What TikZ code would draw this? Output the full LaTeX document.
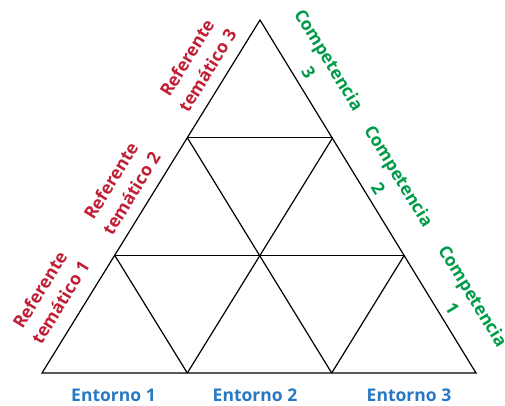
\documentclass[tikz,border=0pt]{standalone}
\usepackage{fontspec}
\setmainfont{Open Sans}
\definecolor{refred}{RGB}{192,30,52}
\definecolor{compgreen}{RGB}{0,155,72}
\definecolor{entblue}{RGB}{40,120,195}
\begin{document}
\begin{tikzpicture}[x=1pt,y=-1pt,
  edge/.style={draw=black,line width=1.2pt,line join=miter},
  reflab/.style={text=refred,font=\fontsize{17.5}{24}\selectfont\bfseries,align=center,rotate=58.3,inner sep=0pt},
  complab/.style={text=compgreen,font=\fontsize{17.5}{24}\selectfont\bfseries,align=center,rotate=-58.5,inner sep=0pt},
  entlab/.style={text=entblue,font=\fontsize{17.5}{24}\selectfont\bfseries,inner sep=0pt}]
\useasboundingbox (0,0) rectangle (505,406);
\coordinate (A) at (260,20);
\coordinate (B) at (42,373);
\coordinate (C) at (476,373);
\coordinate (L1) at (114.7,255.3);
\coordinate (L2) at (187.3,137.7);
\coordinate (R1) at (332.7,137.7);
\coordinate (R2) at (404.3,255.3);
\coordinate (B1) at (187.3,373);
\coordinate (B2) at (331.7,373);
\draw[edge] (A) -- (B) -- (C) -- cycle;
\draw[edge] (L2) -- (R1);
\draw[edge] (L1) -- (R2);
\draw[edge] (L2) -- (B2);
\draw[edge] (L1) -- (B1);
\draw[edge] (R1) -- (B1);
\draw[edge] (R2) -- (B2);
\node[reflab] (rt3) at (197,64) {Referente\\temático 3};
\node[reflab] (rt2) at (121,187) {Referente\\temático 2};
\node[reflab] (rt1) at (50,296) {Referente\\temático 1};
\node[complab] (c3) at (319,66) {Competencia\\3};
\node[complab] (c2) at (389,182) {Competencia\\2};
\node[complab] (c1) at (463,302) {Competencia\\1};
\node[entlab] (e1) at (113.5,395) {Entorno 1};
\node[entlab] (e2) at (255,395) {Entorno 2};
\node[entlab] (e3) at (409,395) {Entorno 3};
\end{tikzpicture}
\end{document}
